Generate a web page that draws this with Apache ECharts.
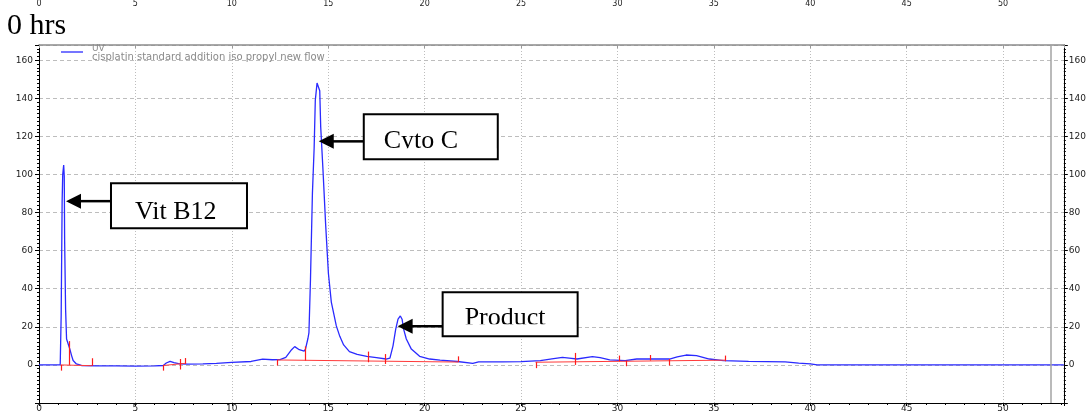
<!DOCTYPE html>
<html>
<head>
<meta charset="utf-8">
<script src="https://cdn.jsdelivr.net/npm/echarts@6/dist/echarts.min.js"></script>
<style>
  html, body { margin: 0; padding: 0; background: #fff; }
  #chart { width: 1089px; height: 413px; }
</style>
</head>
<body>
<div id="chart"></div>
<script>
// Retention time (min) and UV absorbance of the trace
const timeMin = [
  0, 1.10, 1.14, 1.15, 1.19, 1.20, 1.23, 1.28, 1.31, 1.33, 1.38, 1.43, 1.48, 1.53, 1.60, 1.69, 1.77, 1.94, 2.2,
  3.0, 4.0, 5.0, 6.0, 6.45, 6.6, 6.8, 7.0, 7.3, 7.7, 8.5, 9.2, 10.0, 11.0, 11.6, 12.1, 12.5, 12.8, 13.1, 13.26,
  13.5, 13.75, 13.82, 13.95, 14.0, 14.08, 14.18, 14.27, 14.33, 14.42, 14.47, 14.52, 14.56, 14.61, 14.73, 14.87,
  15.01, 15.16, 15.42, 15.6, 15.8, 16.1, 16.5, 17.0, 17.5, 18.0, 18.2, 18.36, 18.5, 18.62, 18.74, 18.83, 18.91,
  19.05, 19.31, 19.74, 20.26, 20.8, 21.7, 22.5, 22.8, 24.0, 25.0, 26.0, 26.6, 27.15, 27.5, 27.9, 28.7, 29.1,
  29.6, 30.4, 31.0, 31.65, 32.7, 33.1, 33.56, 34.1, 34.77, 35.5, 36.8, 38.7, 39.4, 40.0, 40.36, 53.15
];
const uvSignal = [
  0, 0, 0.5, 26, 27, 86, 100, 105, 99, 65, 29, 13.6, 14.4, 12.7, 8.3, 4.9, 2.3, 0.5, -0.3,
  -0.5, -0.5, -0.6, -0.5, -0.3, 1.0, 1.9, 1.2, 0.6, 0.4, 0.5, 0.8, 1.3, 1.8, 3.0, 2.7, 2.8, 4.0, 8.0, 9.6,
  8.0, 7.2, 8.3, 14, 17, 45, 90, 114, 139, 148, 149, 147, 144, 125, 102, 73,
  48, 33, 20.5, 15, 10.5, 7, 5.5, 4.5, 3.8, 3.1, 3.6, 10, 18.8, 24, 25.7, 24, 18.8,
  13.6, 8.3, 4.5, 3.1, 2.5, 1.8, 0.8, 1.6, 1.6, 1.7, 2.3, 3.2, 4.0, 3.6, 3.1, 4.3, 3.8,
  2.6, 2.3, 3.1, 3.1, 3.1, 4.2, 5.2, 4.9, 3.1, 2.3, 1.9, 1.6, 0.9, 0.5, 0, 0
];

// Integration baselines: [startTime, startValue, endTime, endValue]
const baselineSegments = [
  [1.12, 0, 2.73, -0.4],
  [6.44, -0.3, 7.56, 0.8],
  [12.35, 2.6, 21.73, 1.5],
  [25.75, 1.4, 35.6, 2.5]
];
// Peak start/end markers: [time, lowValue, highValue]
const peakMarks = [
  [1.12, -3, 0], [1.57, 0, 12.5], [2.73, -0.5, 3.5], [6.44, -3, 0], [7.32, -2.4, 3.1], [7.56, 0.5, 3.6],
  [12.35, -0.3, 2.6], [13.8, 2.3, 9.7], [17.06, 1.4, 7], [17.93, 0.5, 5.7], [21.73, 1.4, 4.5],
  [25.75, -1.7, 1.4], [27.8, 0, 6.3], [30.1, 1.9, 4.9], [30.45, -0.7, 2.3], [31.7, 2.3, 5.2],
  [32.66, -0.3, 3.1], [35.6, 1.9, 4.9]
];

// Labelled peaks: arrow tip position in data units
const peakLabels = ['Vit B12', 'Cyto C', 'Product'];
const peakLabelTips = [[1.40, 86], [14.51, 117.4], [18.60, 20.3]];

// Axis tick labels
const timeTicks = [0, 5, 10, 15, 20, 25, 30, 35, 40, 45, 50];
const signalTicks = [0, 20, 40, 60, 80, 100, 120, 140, 160];
const timeRange = [0, 53.15];
const signalRange = [-20, 168];
const runEndTime = 52.45;

const legendTitle = 'UV';
const legendSubtitle = 'cisplatin standard addition iso propyl new flow';
const chartTitle = '0 hrs';

// Callout box layout relative to the arrow tip (pixels)
const calloutLayout = [
  { dx: 45, dy: -18, w: 136, h: 45, tx: 24, mid: 29, clip: 37 },
  { dx: 45, dy: -27, w: 134, h: 45, tx: 20, mid: 27, clip: 34 },
  { dx: 45, dy: -34, w: 135, h: 44, tx: 22, mid: 26, clip: 32 }
];

const chart = echarts.init(document.getElementById('chart'), null, { renderer: 'canvas' });

const tickFont = { fontFamily: 'DejaVu Sans', fontSize: 9, color: '#222' };
const gridGrey = '#bdbdbd';

const xLabel = v => (timeTicks.includes(Math.round(v * 1000) / 1000) ? String(v) : '');
const yLabel = v => (signalTicks.includes(Math.round(v * 1000) / 1000) ? String(v) : '');

const option = {
  animation: false,
  backgroundColor: '#fff',
  grid: { left: 39, right: 25, top: 44, bottom: 9, containLabel: false },
  xAxis: [
    {
      type: 'value', position: 'bottom', min: timeRange[0], max: timeRange[1], interval: 5,
      axisLine: { show: true, onZero: false, lineStyle: { color: '#000', width: 1 } },
      axisTick: { show: true, inside: false, length: 3, lineStyle: { color: '#000' } },
      minorTick: { show: true, splitNumber: 5, length: 2, lineStyle: { color: '#000' } },
      axisLabel: { ...tickFont, margin: 1, formatter: xLabel },
      splitLine: { show: true, lineStyle: { color: gridGrey, type: [1, 2], width: 1 } }
    },
    {
      type: 'value', position: 'top', min: timeRange[0], max: timeRange[1], interval: 5,
      axisLine: { show: true, onZero: false, lineStyle: { color: '#8c8c8c', width: 1.5 } },
      axisTick: { show: true, inside: true, length: 3, lineStyle: { color: '#999' } },
      axisLabel: { ...tickFont, fontSize: 8, margin: 37, formatter: xLabel },
      splitLine: { show: false }
    }
  ],
  yAxis: [
    {
      type: 'value', position: 'left', min: signalRange[0], max: signalRange[1], interval: 20,
      axisLine: { show: true, onZero: false, lineStyle: { color: '#000', width: 1 } },
      axisTick: { show: true, inside: false, length: 4, lineStyle: { color: '#000' } },
      minorTick: { show: true, splitNumber: 10, length: 2, lineStyle: { color: '#000' } },
      axisLabel: { ...tickFont, margin: 6, formatter: yLabel },
      splitLine: { show: true, lineStyle: { color: gridGrey, type: [4, 3], width: 1 } }
    },
    {
      type: 'value', position: 'right', min: signalRange[0], max: signalRange[1], interval: 20,
      axisLine: { show: true, onZero: false, lineStyle: { color: '#000', width: 1 } },
      axisTick: { show: true, inside: false, length: 4, lineStyle: { color: '#000' } },
      minorTick: { show: true, splitNumber: 10, length: 2, lineStyle: { color: '#000' } },
      axisLabel: { ...tickFont, margin: 5, formatter: yLabel },
      splitLine: { show: false }
    }
  ],
  series: [
    {
      name: legendTitle,
      type: 'line',
      xAxisIndex: 0, yAxisIndex: 0,
      data: timeMin.map((t, i) => [t, uvSignal[i]]),
      showSymbol: false,
      smooth: false,
      clip: true,
      lineStyle: { color: '#2a2aff', width: 1.3 },
      itemStyle: { color: '#2a2aff' },
      z: 3,
      markLine: {
        silent: true,
        symbol: 'none',
        label: { show: false },
        lineStyle: { color: '#a3a3a3', type: 'solid', width: 1.5 },
        data: [{ xAxis: runEndTime }]
      }
    },
    {
      type: 'custom',
      xAxisIndex: 0, yAxisIndex: 0,
      data: baselineSegments,
      encode: { x: [0, 2], y: [1, 3] },
      silent: true,
      z: 4,
      renderItem(params, api) {
        const a = api.coord([api.value(0), api.value(1)]);
        const b = api.coord([api.value(2), api.value(3)]);
        return {
          type: 'line',
          shape: { x1: a[0], y1: a[1], x2: b[0], y2: b[1] },
          style: { stroke: '#ff3a3a', lineWidth: 1 }
        };
      }
    },
    {
      type: 'custom',
      xAxisIndex: 0, yAxisIndex: 0,
      data: peakMarks,
      encode: { x: 0, y: [1, 2] },
      silent: true,
      z: 5,
      renderItem(params, api) {
        const a = api.coord([api.value(0), api.value(1)]);
        const b = api.coord([api.value(0), api.value(2)]);
        return {
          type: 'line',
          shape: { x1: Math.round(a[0]) + 0.5, y1: a[1], x2: Math.round(a[0]) + 0.5, y2: b[1] },
          style: { stroke: '#ff1a1a', lineWidth: 1.2 }
        };
      }
    }
  ]
};

chart.setOption(option);

// Title, legend and peak callouts drawn on top of the plot
const graphics = [
  {
    type: 'text', z: 100,
    style: { text: chartTitle, x: 7, y: 26.5, font: '30px "Liberation Serif"', fill: '#000', verticalAlign: 'middle' }
  },
  {
    type: 'line', z: 100,
    shape: { x1: 61, y1: 52, x2: 83, y2: 52 },
    style: { stroke: '#2a2aff', lineWidth: 1.3 }
  },
  {
    type: 'text', z: 100,
    style: { text: legendTitle, x: 92, y: 48.5, font: '9px "DejaVu Sans"', fill: '#8a8a8a', verticalAlign: 'middle' }
  },
  {
    type: 'text', z: 100,
    style: { text: legendSubtitle, x: 92, y: 57, font: '10px "DejaVu Sans"', fill: '#8a8a8a', verticalAlign: 'middle' }
  }
];

peakLabels.forEach((label, i) => {
  const tip = chart.convertToPixel({ xAxisIndex: 0, yAxisIndex: 0 }, peakLabelTips[i]);
  const L = calloutLayout[i];
  const bx = tip[0] + L.dx;
  const by = tip[1] + L.dy;
  const head = 15;
  graphics.push(
    {
      type: 'line', z: 101,
      shape: { x1: tip[0] + head - 1, y1: tip[1], x2: bx, y2: tip[1] },
      style: { stroke: '#000', lineWidth: 2.5 }
    },
    {
      type: 'polygon', z: 101,
      shape: { points: [[tip[0], tip[1]], [tip[0] + head, tip[1] - 7.5], [tip[0] + head, tip[1] + 7.5]] },
      style: { fill: '#000' }
    },
    {
      type: 'rect', z: 101,
      shape: { x: bx, y: by, width: L.w, height: L.h },
      style: { fill: '#fff', stroke: '#000', lineWidth: 2 }
    },
    {
      type: 'text', z: 102,
      style: {
        text: label, x: bx + L.tx, y: by + L.mid,
        font: '26px "Liberation Serif"', fill: '#000', verticalAlign: 'middle'
      }
    },
    {
      // text inside the box is cut off along its lower edge
      type: 'rect', z: 103,
      shape: { x: bx + 1.5, y: by + L.clip, width: L.w - 3, height: L.h - L.clip - 1.5 },
      style: { fill: '#fff' }
    }
  );
});

chart.setOption({ graphic: graphics });
</script>
</body>
</html>
